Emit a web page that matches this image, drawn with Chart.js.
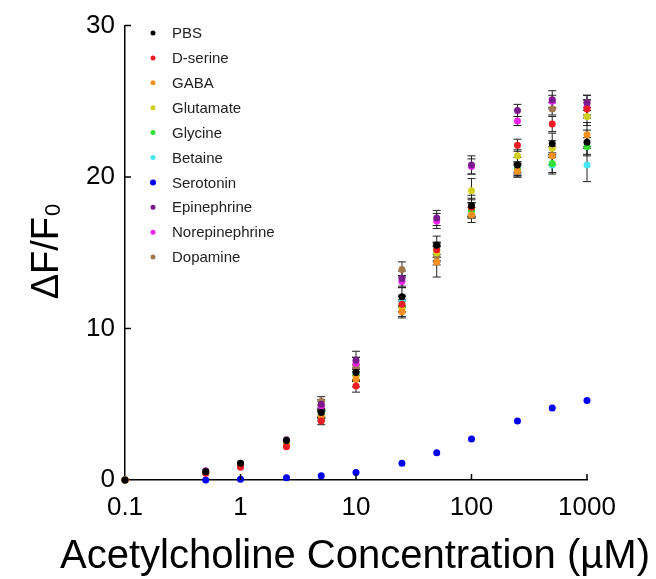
<!DOCTYPE html>
<html>
<head>
<meta charset="utf-8">
<script src="https://cdn.jsdelivr.net/npm/chart.js@4.4.1/dist/chart.umd.min.js"></script>
<style>
    body { margin: 0; background: #fff; }
</style>
</head>
<body>
<canvas id="chart" width="656" height="579"></canvas>
<script>
// Concentrations (uM) and axis ticks
const concentrations = [0.1, 0.5, 1, 2.5, 5, 10, 25, 50, 100, 250, 500, 1000];
const xTicks = [0.1, 1, 10, 100, 1000];
const yTicks = [0, 10, 20, 30];
const xTitle = 'Acetylcholine Concentration (\u00b5M)';

const seriesNames = ['PBS', 'D-serine', 'GABA', 'Glutamate', 'Glycine', 'Betaine',
    'Serotonin', 'Epinephrine', 'Norepinephrine', 'Dopamine'];
const seriesColors = ['#000000', '#ee1c24', '#f7901e', '#d2cf1f', '#33e033', '#44e6f2',
    '#0000f0', '#7a1a8c', '#ee22ee', '#a3784a'];

// dF/F0 means
const pbs = [0, 0.55, 1.1, 2.6, 4.45, 7.1, 12.1, 15.5, 18.1, 20.8, 22.2, 22.3];
const dSerine = [0, 0.45, 0.85, 2.2, 3.9, 6.2, 11.6, 15.2, 18.0, 22.1, 23.5, 24.5];
const gaba = [0, 0.5, 0.95, 2.3, 4.2, 6.65, 11.1, 14.4, 17.5, 20.4, 21.4, 22.8];
const glutamate = [0, 0.5, 1.0, 2.4, 4.3, 6.9, 11.3, 15.0, 19.1, 21.4, 21.9, 24.0];
const glycine = [0, 0.5, 1.0, 2.4, 4.3, 6.9, 11.5, 15.0, 17.8, 20.5, 20.9, 22.0];
const betaine = [0, 0.5, 1.0, 2.4, 4.4, 7.0, 11.8, 15.2, 18.0, 20.6, 20.8, 20.8];
const serotonin = [0, 0, 0.05, 0.15, 0.28, 0.5, 1.1, 1.8, 2.7, 3.9, 4.75, 5.25];
const epinephrine = [0, 0.6, 1.1, 2.65, 5.0, 7.9, 13.3, 17.3, 20.8, 24.4, 25.1, 24.9];
const norepinephrine = [0, 0.6, 1.05, 2.6, 4.9, 7.7, 13.1, 17.1, 20.7, 23.7, 25.0, 24.6];
const dopamine = [0, 0.55, 1.0, 2.5, 5.2, 7.5, 13.9, 14.8, 17.8, 20.4, 24.5, 24.9];

// standard errors
const pbsErr = [0, 0.05, 0.1, 0.2, 0.3, 0.5, 0.6, 0.6, 0.7, 0.5, 0.7, 0.8];
const dSerineErr = [0, 0.05, 0.1, 0.2, 0.25, 0.4, 0.5, 0.5, 0.6, 0.4, 0.5, 0.6];
const gabaErr = [0, 0.05, 0.1, 0.2, 0.3, 0.5, 0.4, 1.0, 0.5, 0.4, 0.6, 0.8];
const glutamateErr = [0, 0.05, 0.1, 0.2, 0.25, 0.4, 0.5, 0.6, 0.8, 0.4, 0.5, 0.6];
const glycineErr = [0, 0.05, 0.1, 0.15, 0.25, 0.4, 0.4, 0.5, 0.5, 0.4, 0.7, 0.6];
const betaineErr = [0, 0.05, 0.1, 0.15, 0.25, 0.4, 0.4, 0.5, 0.5, 0.4, 0.5, 1.1];
const serotoninErr = [0, 0.02, 0.03, 0.04, 0.05, 0.08, 0.1, 0.1, 0.12, 0.12, 0.15, 0.15];
const epinephrineErr = [0, 0.05, 0.1, 0.2, 0.3, 0.6, 0.5, 0.5, 0.6, 0.4, 0.6, 0.5];
const norepinephrineErr = [0, 0.05, 0.1, 0.2, 0.3, 0.4, 0.4, 0.5, 0.5, 0.3, 0.4, 0.5];
const dopamineErr = [0, 0.05, 0.1, 0.2, 0.3, 0.6, 0.5, 0.6, 0.5, 0.4, 0.4, 0.5];

const seriesValues = [pbs, dSerine, gaba, glutamate, glycine, betaine,
    serotonin, epinephrine, norepinephrine, dopamine];
const seriesErrors = [pbsErr, dSerineErr, gabaErr, glutamateErr, glycineErr, betaineErr,
    serotoninErr, epinephrineErr, norepinephrineErr, dopamineErr];

const FONT = "'Liberation Sans', Arial, Helvetica, sans-serif";
const POINT_R = 3.5;

const datasets = seriesNames.map(function (name, i) {
    return {
        label: name,
        data: concentrations.map((c, j) => ({ x: c, y: seriesValues[i][j], err: seriesErrors[i][j] })),
        backgroundColor: seriesColors[i],
        borderColor: seriesColors[i],
        pointRadius: POINT_R,
        pointBorderWidth: 0,
        clip: false
    };
});

// Error bars, drawn under the points (hidden when shorter than the marker)
const errorBars = {
    id: 'errorBars',
    beforeDatasetsDraw(chart) {
        const ctx = chart.ctx;
        const xs = chart.scales.x, ys = chart.scales.y;
        ctx.save();
        ctx.strokeStyle = '#222';
        ctx.lineWidth = 1;
        chart.data.datasets.forEach(function (ds) {
            ds.data.forEach(function (p) {
                const x = xs.getPixelForValue(p.x);
                const y1 = ys.getPixelForValue(p.y - p.err);
                const y2 = ys.getPixelForValue(p.y + p.err);
                if ((y1 - y2) / 2 < POINT_R) return;
                ctx.beginPath();
                ctx.moveTo(x, y1); ctx.lineTo(x, y2);
                ctx.moveTo(x - 4, y1); ctx.lineTo(x + 4, y1);
                ctx.moveTo(x - 4, y2); ctx.lineTo(x + 4, y2);
                ctx.stroke();
            });
        });
        ctx.restore();
    }
};

// Inward tick marks, legend and axis titles
const decorations = {
    id: 'decorations',
    afterDraw(chart) {
        const ctx = chart.ctx;
        const xs = chart.scales.x, ys = chart.scales.y;
        const area = chart.chartArea;
        ctx.save();
        ctx.strokeStyle = '#000';
        ctx.lineWidth = 1.5;
        ctx.beginPath();
        yTicks.slice(1).forEach(function (v) {
            const y = ys.getPixelForValue(v);
            ctx.moveTo(area.left, y); ctx.lineTo(area.left + 6, y);
        });
        xTicks.slice(1).forEach(function (v) {
            const x = xs.getPixelForValue(v);
            ctx.moveTo(x, area.bottom); ctx.lineTo(x, area.bottom - 6);
        });
        ctx.stroke();

        // legend
        ctx.font = '15px ' + FONT;
        ctx.textBaseline = 'middle';
        ctx.textAlign = 'left';
        chart.data.datasets.forEach(function (ds, i) {
            const y = 33 + i * 24.9;
            ctx.fillStyle = ds.backgroundColor;
            ctx.beginPath();
            ctx.arc(153, y, i === 6 ? 3 : 2.5, 0, Math.PI * 2);
            ctx.fill();
            ctx.fillStyle = '#222';
            ctx.fillText(ds.label, 172, y + 1);
        });

        // x axis title (wider than the plot, so drawn here)
        ctx.fillStyle = '#000';
        ctx.font = '40px ' + FONT;
        ctx.textAlign = 'center';
        ctx.textBaseline = 'middle';
        ctx.fillText(xTitle, 355, 557);

        // y axis title: dF/F0
        ctx.textAlign = 'left';
        ctx.translate(45, 252);
        ctx.rotate(-Math.PI / 2);
        ctx.textBaseline = 'alphabetic';
        ctx.font = '38px ' + FONT;
        const main = '\u0394F/F';
        const wMain = ctx.measureText(main).width;
        ctx.font = '22px ' + FONT;
        const wSub = ctx.measureText('0').width;
        const start = -(wMain + wSub) / 2;
        ctx.font = '38px ' + FONT;
        ctx.fillText(main, start, 13);
        ctx.font = '22px ' + FONT;
        ctx.fillText('0', start + wMain + 1, 15);
        ctx.restore();
    }
};

const ctx = document.getElementById('chart').getContext('2d');
const chart = new Chart(ctx, {
    type: 'scatter',
    data: { datasets: datasets },
    options: {
        responsive: false,
        animation: false,
        layout: { padding: { top: 20, right: 69, left: 0, bottom: 0 } },
        plugins: {
            legend: { display: false },
            tooltip: { enabled: false }
        },
        scales: {
            x: {
                type: 'logarithmic',
                min: 0.1,
                max: 1000,
                afterBuildTicks: function (scale) {
                    scale.ticks = xTicks.map(v => ({ value: v }));
                },
                afterFit: function (scale) { scale.height = 99; },
                grid: { display: false, drawTicks: false },
                border: { display: true, color: '#000', width: 1.5 },
                ticks: {
                    color: '#000',
                    padding: 12,
                    maxRotation: 0,
                    autoSkip: false,
                    font: { family: FONT, size: 26 },
                    callback: function (value) { return String(value); }
                }
            },
            y: {
                min: 0,
                max: 30,
                afterBuildTicks: function (scale) {
                    scale.ticks = yTicks.map(v => ({ value: v }));
                },
                afterFit: function (scale) { scale.width = 125; },
                grid: { display: false, drawTicks: false },
                border: { display: true, color: '#000', width: 1.5 },
                ticks: {
                    color: '#000',
                    padding: 10,
                    font: { family: FONT, size: 26 }
                }
            }
        }
    },
    plugins: [errorBars, decorations]
});
</script>
</body>
</html>
